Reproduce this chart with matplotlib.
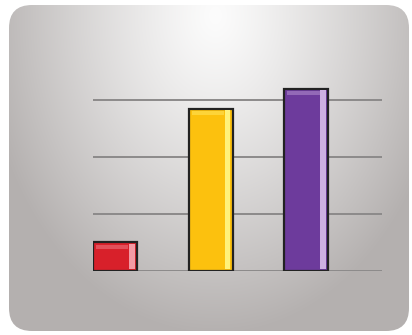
import numpy as np
import matplotlib.pyplot as plt
from matplotlib.patches import FancyBboxPatch

# data
categories = ['A', 'B', 'C']
values = [0.5, 2.85, 3.2]
colors = ['#d8202a', '#fcc10e', '#6d3b9c']
light = ['#f29aa4', '#fff27a', '#cdb0e2']
grid_vals = [1, 2, 3]

W, H = 412, 335
fig = plt.figure(figsize=(W / 100, H / 100), dpi=100)
fig.patch.set_facecolor('white')

# background panel with radial gradient, light at top centre
bg = fig.add_axes([0, 0, 1, 1])
bg.set_xlim(0, W)
bg.set_ylim(H, 0)
bg.axis('off')
yy, xx = np.mgrid[0:H, 0:W]
d = np.sqrt(((xx - 215) / 235.0) ** 2 + ((yy - 15) / 320.0) ** 2)
d = np.clip(d, 0, 1) ** 1.2
top = np.array([252, 252, 252]) / 255
edge = np.array([180, 176, 175]) / 255
img = top[None, None, :] * (1 - d[..., None]) + edge[None, None, :] * d[..., None]
panel = FancyBboxPatch((9, 5), 400, 326, boxstyle='round,pad=0,rounding_size=23',
                       facecolor='none', edgecolor='none')
bg.add_patch(panel)
im = bg.imshow(img, extent=[0, W, H, 0], aspect='auto')
im.set_clip_path(panel)

# chart axes
ax = fig.add_axes([93 / W, (H - 271) / H, 289 / W, 191 / H])
ax.set_xlim(-0.23, 2.79)
ax.set_ylim(0, 3.35)
ax.patch.set_alpha(0)
for s in ax.spines.values():
    s.set_visible(False)
ax.set_xticks([])
ax.set_yticks([])
for g in [0] + grid_vals:
    ax.axhline(g, color='#8c8a8a', lw=1.4, zorder=1)

x = np.arange(len(categories))
bw = 0.46
ax.bar(x, values, width=bw, color=colors, edgecolor='#222222', linewidth=1.6, zorder=3)
# bevel highlight on the right side
ax.bar(x + bw / 2 - 0.055, [v - 0.06 for v in values], width=0.06, bottom=0.03,
       color=light, edgecolor='none', zorder=4)
# top bevel
ax.bar(x - 0.03, [0.08] * 3, width=bw - 0.12, bottom=[v - 0.12 for v in values],
       color=light, alpha=0.4, edgecolor='none', zorder=4)

fig.savefig('out.png', dpi=100)
